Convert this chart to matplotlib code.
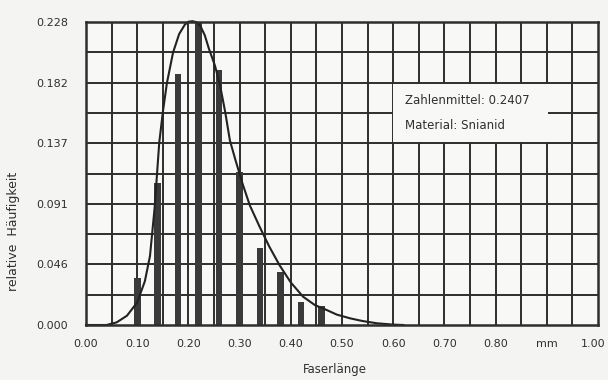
import matplotlib
matplotlib.use("Agg")
import matplotlib.pyplot as plt
import matplotlib.transforms as mtransforms
import numpy as np

# Fibre length classes (mm) and their relative frequencies
bar_x = [0.10, 0.14, 0.18, 0.22, 0.26, 0.30, 0.34, 0.38, 0.42, 0.46]
bar_h = [0.035, 0.107, 0.189, 0.228, 0.192, 0.115, 0.058, 0.040, 0.0175, 0.0145]

# Fitted distribution curve
curve_x = [0.00, 0.04, 0.06, 0.08, 0.10, 0.115, 0.125, 0.134, 0.143, 0.150,
           0.158, 0.170, 0.182, 0.193, 0.200, 0.208, 0.216, 0.224, 0.232,
           0.240, 0.252, 0.262, 0.272, 0.281, 0.292, 0.306, 0.320, 0.339,
           0.358, 0.378, 0.400, 0.424, 0.447, 0.470, 0.490, 0.516, 0.540,
           0.568, 0.600, 0.620]
curve_y = [0.000, 0.000, 0.002, 0.007, 0.017, 0.033, 0.052, 0.088, 0.137, 0.160,
           0.182, 0.205, 0.219, 0.226, 0.2282, 0.2286, 0.2278, 0.2245, 0.218,
           0.208, 0.195, 0.180, 0.160, 0.139, 0.124, 0.106, 0.090, 0.074,
           0.059, 0.045, 0.032, 0.0213, 0.015, 0.0113, 0.0078, 0.005, 0.003,
           0.0013, 0.0003, 0.0]

x_ticks = [0.0, 0.1, 0.2, 0.3, 0.4, 0.5, 0.6, 0.7, 0.8, 0.9, 1.0]
x_labels = ["0.00", "0.10", "0.20", "0.30", "0.40", "0.50", "0.60", "0.70", "0.80", "mm", "1.00"]
y_ticks = [0.0, 0.0456, 0.0912, 0.1368, 0.1824, 0.228]
y_labels = ["0.000", "0.046", "0.091", "0.137", "0.182", "0.228"]

ink = "#2e2e2e"
paper = "#f4f4f2"
text_col = "#2f2f2f"

fig = plt.figure(figsize=(6.08, 3.80), dpi=100, facecolor=paper)
ax = fig.add_axes([86 / 608, 55 / 380, 512 / 608, 303 / 380], facecolor="#f8f8f6")

ax.set_xlim(0, 1.0)
ax.set_ylim(0, 0.228)

# Millimetre-paper style grid
for gx in np.arange(0.05, 1.0, 0.05):
    ax.axvline(gx, color=ink, lw=1.4, zorder=1)
for gy in np.arange(1, 10) * 0.0228:
    ax.axhline(gy, color=ink, lw=1.4, zorder=1)

ax.bar(bar_x, bar_h, width=0.013, color="#3a3a3a", zorder=3)
ax.plot(curve_x, curve_y, color="#222222", lw=1.5, zorder=4, clip_on=False,
        solid_joinstyle="round")

for s in ax.spines.values():
    s.set_color(ink)
    s.set_linewidth(1.8)
    s.set_zorder(5)

ax.set_xticks(x_ticks)
ax.set_xticklabels(x_labels)
ax.set_yticks(y_ticks)
ax.set_yticklabels(y_labels)
ax.tick_params(axis="x", length=0, labelsize=8, colors=text_col, pad=10)
ax.tick_params(axis="y", length=0, labelsize=8, colors=text_col, pad=13)

# keep the last x label inside the figure
last = ax.get_xticklabels()[-1]
last.set_transform(last.get_transform() +
                   mtransforms.ScaledTranslation(-5 / 100, 0, fig.dpi_scale_trans))

# Info box
ax.add_patch(plt.Rectangle((0.600, 0.1380), 0.303, 0.0432, facecolor="#f8f8f6",
                           edgecolor="none", zorder=6))
ax.text(0.623, 0.1690, "Zahlenmittel: 0.2407", fontsize=8.5, color=text_col,
        va="center", ha="left", zorder=7)
ax.text(0.623, 0.1500, "Material: Snianid", fontsize=8.5, color=text_col,
        va="center", ha="left", zorder=7)

fig.text(335 / 608, 1 - 369 / 380, "Faserlänge", fontsize=8.5, color=text_col,
         ha="center", va="center")
fig.text(14 / 608, 1 - 231 / 380, "relative  Häufigkeit", fontsize=9, color=text_col,
         ha="center", va="center", rotation=90)

fig.savefig("out.png", dpi=100, facecolor=paper)
